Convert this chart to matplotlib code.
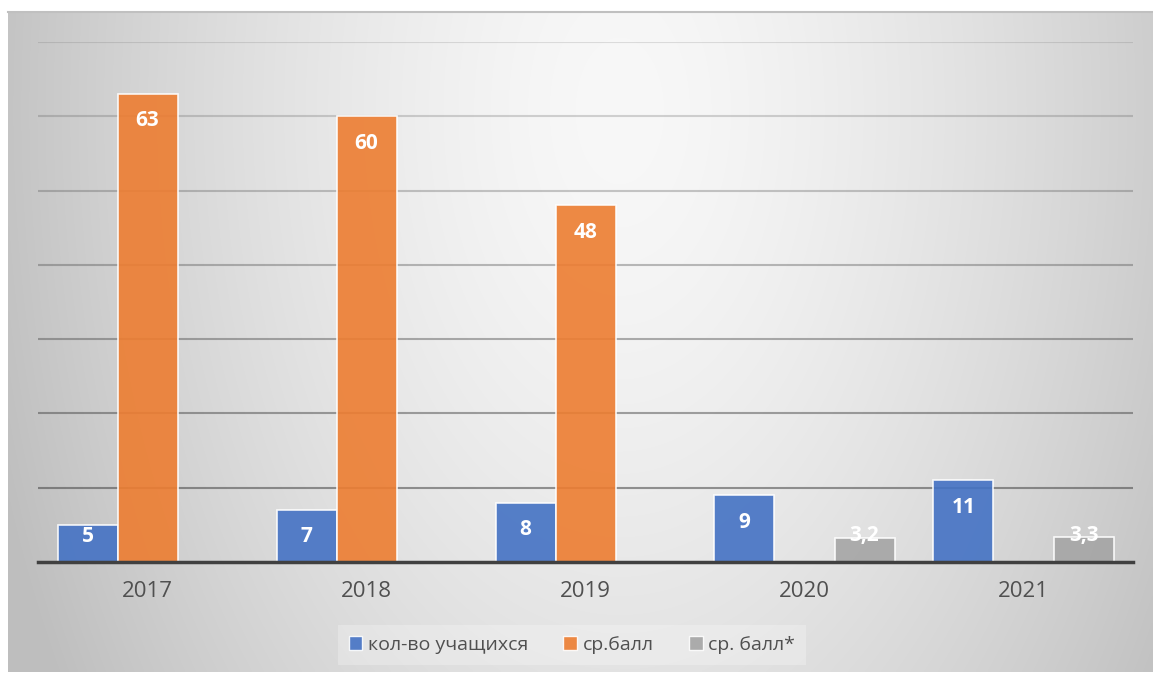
import numpy as np
import matplotlib
matplotlib.use('Agg')
import matplotlib.pyplot as plt
from matplotlib.patches import Patch

# Daten
years = ['2017', '2018', '2019', '2020', '2021']
students = [5, 7, 8, 9, 11]
avg_score = [63, 60, 48, None, None]
avg_score_star = [None, None, None, 3.2, 3.3]
series_names = ['кол-во учащихся', 'ср.балл', 'ср. балл*']
colors = ['#4472C4', '#ED7D31', '#A5A5A5']

plt.rcParams['font.family'] = ['Open Sans', 'DejaVu Sans']

W, H = 1153, 677
fig = plt.figure(figsize=(W / 100, H / 100), dpi=100)

# Hintergrund mit radialem Verlauf
bg = fig.add_axes([0, 0, 1, 1], zorder=-5)
bg.set_xlim(0, W)
bg.set_ylim(H, 0)
bg.axis('off')
xx, yy = np.meshgrid(np.linspace(8, W, 400), np.linspace(11, 672, 250))
r = np.sqrt(((xx - 620) / 600) ** 2 + ((yy - 110) / 1000) ** 2)
r = np.clip(r, 0, 1.1)
shade = 248 - 50 * r ** 1.5
img = np.dstack([shade, shade, shade]) / 255.0
img = np.clip(img, 0, 1)
bg.imshow(img, extent=(8, W, 672, 11), aspect='auto', interpolation='bilinear')
bg.plot([8, W], [11.5, 11.5], color='#c0c0c0', lw=1.5)

ax = fig.add_axes([38 / W, 1 - 562 / H, (1133 - 38) / W, (562 - 42) / H])
ax.set_facecolor('none')
ax.set_xlim(-0.5, len(years) - 0.5)
ax.set_ylim(0, 70)

# Gitterlinien (oben heller, unten dunkler)
for v in range(10, 71, 10):
    ax.axhline(v, color='#404040', lw=1.5, alpha=0.15 + 0.45 * (1 - v / 70), zorder=1)

w = 60 / 219
x = np.arange(len(years))
px_per_unit = 520 / 70
for i, (vals, c) in enumerate(zip([students, avg_score, avg_score_star], colors)):
    for xi, v in zip(x, vals):
        if v is None:
            continue
        xpos = xi + (i - 1) * w
        ax.bar(xpos, v, width=w, color=c, alpha=0.9, edgecolor=(1, 1, 1, 0.6),
               linewidth=1.2, zorder=2)
        ly = max(v - 27 / px_per_unit, 26 / px_per_unit)
        txt = str(v).replace('.', ',')
        ax.text(xpos, ly, txt, ha='center', va='center', color='white',
                fontsize=15, fontweight='bold', zorder=4)

for s in ['top', 'right', 'left']:
    ax.spines[s].set_visible(False)
ax.spines['bottom'].set_color('#404040')
ax.spines['bottom'].set_linewidth(2.5)
ax.spines['bottom'].set_zorder(3)
ax.set_yticks([])
ax.set_xticks(x)
ax.set_xticklabels(years, fontsize=16, color='#505050')
ax.tick_params(axis='x', length=0, pad=14)

handles = [Patch(facecolor=c, edgecolor='white', linewidth=1, alpha=0.9) for c in colors]
leg = fig.legend(handles, series_names, loc='center', ncol=3,
                 bbox_to_anchor=(572 / W, 1 - 645 / H), fontsize=14,
                 frameon=True, fancybox=False, handlelength=0.7, handleheight=0.7,
                 handletextpad=0.3, columnspacing=1.8, borderpad=0.55,
                 labelcolor='#505050', facecolor='white', edgecolor='none',
                 framealpha=0.25)

fig.savefig('out.png', dpi=100)
